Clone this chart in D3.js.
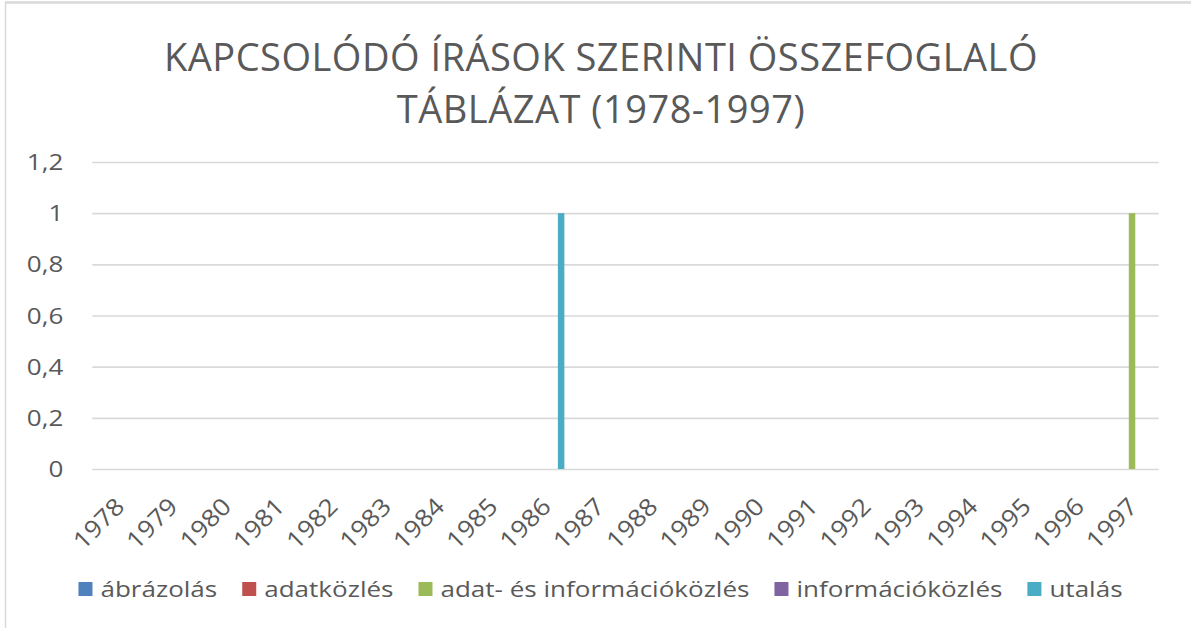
<!DOCTYPE html>
<html>
<head>
<meta charset="utf-8">
<script src="https://cdn.jsdelivr.net/npm/d3@7"></script>
<style>
  html, body { margin: 0; padding: 0; background: #ffffff; }
  svg { display: block; }
  text { font-family: "Open Sans", "Noto Sans", sans-serif; fill: #595959; }
</style>
</head>
<body>
<svg id="chart" width="1191" height="628"></svg>
<script>
// Years on the category axis
const years = ["1978","1979","1980","1981","1982","1983","1984","1985","1986","1987",
               "1988","1989","1990","1991","1992","1993","1994","1995","1996","1997"];

// Series names and their colours
const seriesNames = ["ábrázolás", "adatközlés", "adat- és információközlés", "információközlés", "utalás"];
const seriesColors = ["#4F81BD", "#C0504D", "#9BBB59", "#8064A2", "#4BACC6"];

// Counts per year for each series
const abrazolas      = [0,0,0,0,0,0,0,0,0,0,0,0,0,0,0,0,0,0,0,0];
const adatkozles     = [0,0,0,0,0,0,0,0,0,0,0,0,0,0,0,0,0,0,0,0];
const adatInfo       = [0,0,0,0,0,0,0,0,0,0,0,0,0,0,0,0,0,0,0,1];
const informacio     = [0,0,0,0,0,0,0,0,0,0,0,0,0,0,0,0,0,0,0,0];
const utalas         = [0,0,0,0,0,0,0,0,1,0,0,0,0,0,0,0,0,0,0,0];

// Value axis ticks
const yTicks = [0, 0.2, 0.4, 0.6, 0.8, 1, 1.2];
const yTickLabels = ["0", "0,2", "0,4", "0,6", "0,8", "1", "1,2"];

const titleLines = ["KAPCSOLÓDÓ ÍRÁSOK SZERINTI ÖSSZEFOGLALÓ", "TÁBLÁZAT (1978-1997)"];

const seriesValues = [abrazolas, adatkozles, adatInfo, informacio, utalas];
const rows = years.map((y, i) => ({ year: y, values: seriesValues.map(s => s[i]) }));

const svg = d3.select("#chart");
const W = 1191, H = 628;
const plot = { left: 92.3, right: 1158.7, top: 162, bottom: 469 };
const labelStretch = 1.24;   // horizontal widening of the small labels

// Outer frame (top and left edges visible)
svg.append("line").attr("x1", 5).attr("x2", W).attr("y1", 2.5).attr("y2", 2.5)
  .attr("stroke", "#d9d9d9").attr("stroke-width", 2.5);
svg.append("line").attr("x1", 5.5).attr("x2", 5.5).attr("y1", 2).attr("y2", H)
  .attr("stroke", "#d9d9d9").attr("stroke-width", 1.5);

// Title: two centred lines
svg.append("g").selectAll("text").data(titleLines).join("text")
  .attr("x", 601).attr("y", (d, i) => 71 + i * 52)
  .attr("text-anchor", "middle")
  .style("font-size", "38px")
  .style("letter-spacing", "0.5px")
  .text(d => d);

// Scales
const x0 = d3.scaleBand().domain(years).range([plot.left, plot.right])
  .paddingInner(0.293).paddingOuter(0.1465);
const x1 = d3.scaleBand().domain(d3.range(seriesNames.length))
  .range([0, x0.bandwidth()]).paddingInner(0.1667).paddingOuter(0);
const y = d3.scaleLinear().domain([0, 1.2]).range([plot.bottom, plot.top]);

// Gridlines and value labels
const yAxis = d3.axisLeft(y).tickValues(yTicks)
  .tickSize(-(plot.right - plot.left))
  .tickFormat((d, i) => yTickLabels[i]);
const gy = svg.append("g").attr("transform", `translate(${plot.left},0)`).call(yAxis);
gy.select(".domain").remove();
gy.selectAll(".tick line").attr("stroke", "#d9d9d9").attr("stroke-width", 1.6);
gy.selectAll(".tick text")
  .attr("x", 0).attr("dy", "0.36em")
  .attr("transform", `translate(-29,0) scale(${labelStretch},1)`)
  .style("font-size", "21px").attr("fill", "#595959");

// Bars
const groups = svg.append("g").selectAll("g").data(rows).join("g")
  .attr("transform", d => `translate(${x0(d.year)},0)`);
groups.selectAll("rect")
  .data(d => d.values.map((v, k) => ({ k, v })).filter(e => e.v > 0))
  .join("rect")
  .attr("x", e => x1(e.k))
  .attr("width", x1.bandwidth())
  .attr("y", e => y(e.v))
  .attr("height", e => y(0) - y(e.v))
  .attr("fill", e => seriesColors[e.k]);

// Category axis labels, slanted
const xAxis = d3.axisBottom(x0).tickSize(0).tickPadding(0);
const gx = svg.append("g").attr("transform", `translate(0,${plot.bottom})`).call(xAxis);
gx.select(".domain").remove();
gx.selectAll(".tick text")
  .attr("text-anchor", "end")
  .attr("dy", 0).attr("y", 0)
  .attr("transform", "translate(7,39) rotate(-45) scale(1.1,1)")
  .style("font-size", "24px").attr("fill", "#595959");

// Legend, laid out as one centred row
const legend = svg.append("g").attr("transform", "translate(0,582)");
const items = legend.selectAll("g").data(seriesNames).join("g");
items.append("rect").attr("width", 14).attr("height", 14)
  .attr("fill", (d, i) => seriesColors[i]);
items.append("text")
  .attr("transform", `translate(22,14.5) scale(${labelStretch},1)`)
  .style("font-size", "21px").text(d => d);
const widths = [];
items.each(function () {
  widths.push(22 + d3.select(this).select("text").node().getComputedTextLength() * labelStretch);
});
const itemGap = 25;
const total = d3.sum(widths) + itemGap * (widths.length - 1);
let cursor = 600.5 - total / 2;
items.attr("transform", (d, i) => {
  const t = `translate(${cursor},0)`;
  cursor += widths[i] + itemGap;
  return t;
});
</script>
</body>
</html>
